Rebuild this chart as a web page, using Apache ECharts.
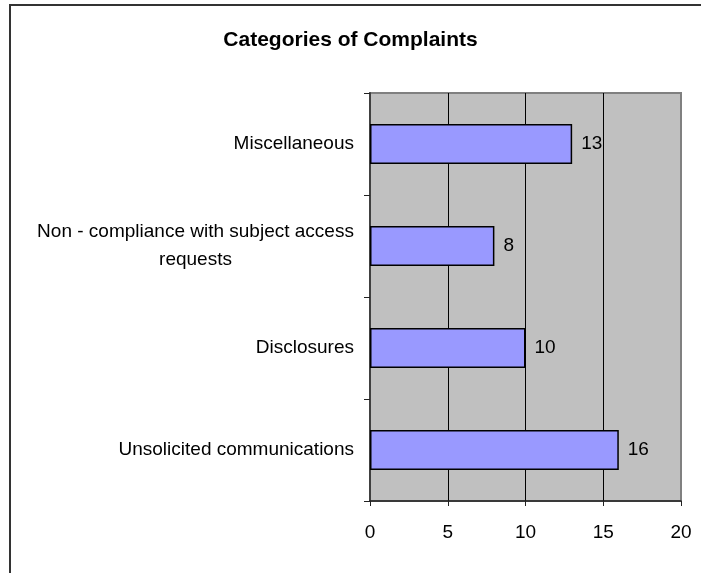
<!DOCTYPE html>
<html>
<head>
<meta charset="utf-8">
<script src="https://cdn.jsdelivr.net/npm/echarts@6/dist/echarts.min.js"></script>
<style>
  html, body { margin: 0; padding: 0; background: #fff; }
  #chart { width: 701px; height: 573px; }
</style>
</head>
<body>
<div id="chart"></div>
<script>
// Complaint categories, listed bottom to top on the vertical axis
const categories = [
  'Unsolicited communications',
  'Disclosures',
  'Non - compliance with subject access requests',
  'Miscellaneous'
];
const counts = [16, 10, 8, 13];

// Value axis range and step
const axisMin = 0;
const axisMax = 20;
const axisStep = 5;

const FONT = '"Liberation Sans", Arial, sans-serif';
const LABEL_SIZE = 19;
const MAX_LABEL_WIDTH = 335;

// Greedy word wrap of a category name, measured with the label font
const measureCtx = document.createElement('canvas').getContext('2d');
measureCtx.font = LABEL_SIZE + 'px ' + FONT;
function wrapName(name) {
  const words = name.split(' ');
  const lines = [];
  let cur = '';
  words.forEach(function (w) {
    const trial = cur ? cur + ' ' + w : w;
    if (cur && measureCtx.measureText(trial).width > MAX_LABEL_WIDTH) {
      lines.push(cur);
      cur = w;
    } else {
      cur = trial;
    }
  });
  if (cur) lines.push(cur);
  return lines;
}
let widestWrapped = 0;
categories.forEach(function (c) {
  const lines = wrapName(c);
  if (lines.length > 1) {
    lines.forEach(function (l) {
      widestWrapped = Math.max(widestWrapped, measureCtx.measureText(l).width);
    });
  }
});

const chart = echarts.init(document.getElementById('chart'), null, { renderer: 'canvas' });

chart.setOption({
  backgroundColor: '#ffffff',
  animation: false,
  title: {
    text: 'Categories of Complaints',
    left: 'center',
    top: 25,
    textStyle: { fontFamily: FONT, fontSize: 21, fontWeight: 'bold', color: '#000' }
  },
  graphic: [{
    type: 'rect',
    silent: true,
    z: 100,
    shape: { x: 10, y: 5, width: 1000, height: 1000 },
    style: { fill: 'none', stroke: '#333333', lineWidth: 2 }
  }],
  grid: {
    left: 370,
    right: 20,
    top: 93,
    bottom: 72,
    show: true,
    backgroundColor: '#C0C0C0',
    borderColor: '#808080',
    borderWidth: 2
  },
  xAxis: {
    type: 'value',
    min: axisMin,
    max: axisMax,
    interval: axisStep,
    axisLine: { show: true, lineStyle: { color: '#222', width: 1.5 } },
    axisTick: { show: true, length: 5, lineStyle: { color: '#222', width: 1 } },
    axisLabel: { fontFamily: FONT, fontSize: LABEL_SIZE, color: '#000', margin: 22 },
    splitLine: {
      show: true,
      showMinLine: false,
      showMaxLine: false,
      lineStyle: { color: '#000', width: 1 }
    }
  },
  yAxis: {
    type: 'category',
    data: categories,
    axisLine: { show: true, lineStyle: { color: '#404040', width: 2 } },
    axisTick: { show: true, length: 6, lineStyle: { color: '#222', width: 1 } },
    axisLabel: {
      fontFamily: FONT,
      fontSize: LABEL_SIZE,
      color: '#000',
      margin: 16,
      lineHeight: 28,
      formatter: function (name) {
        const lines = wrapName(name);
        if (lines.length === 1) return name;
        return lines.map(function (l) { return '{c|' + l + '}'; }).join('\n');
      },
      rich: {
        c: {
          width: Math.ceil(widestWrapped),
          align: 'center',
          fontFamily: FONT,
          fontSize: LABEL_SIZE,
          lineHeight: 28,
          color: '#000'
        }
      }
    },
    splitLine: { show: false }
  },
  series: [{
    type: 'bar',
    data: counts,
    barWidth: 40,
    itemStyle: { color: '#9999FF', borderColor: '#000', borderWidth: 1.5 },
    label: {
      show: true,
      position: 'right',
      distance: 9,
      fontFamily: FONT,
      fontSize: LABEL_SIZE,
      color: '#000'
    }
  }]
});
</script>
</body>
</html>
